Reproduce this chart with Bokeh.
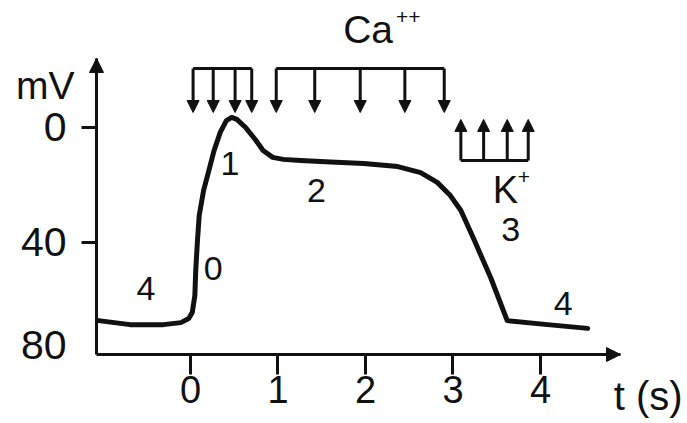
from bokeh.plotting import figure
from bokeh.models import Range1d, FixedTicker, Label, Arrow, NormalHead, ColumnDataSource
from bokeh.embed import file_html
from bokeh.resources import INLINE
from bokeh.core.properties import value

# ---- data ----
t_s = [-1.05, -0.69, -0.31, -0.11, -0.02, 0.02, 0.05, 0.06, 0.08, 0.10, 0.15, 0.21,
       0.27, 0.34, 0.41, 0.47, 0.53, 0.63, 0.74, 0.83, 0.94, 1.06, 1.26, 1.60,
       1.98, 2.37, 2.63, 2.82, 2.97, 3.09, 3.23, 3.43, 3.62, 4.08, 4.54]
mv = [67.2, 68.6, 68.6, 67.9, 66.5, 64.4, 58.5, 49.8, 39.3, 30.6, 21.9, 15.0,
      8.0, 1.7, -2.4, -3.5, -2.8, 0.0, 4.2, 8.0, 10.4, 11.1, 11.5, 12.0,
      12.5, 13.6, 15.7, 19.1, 23.7, 28.9, 38.3, 52.2, 67.2, 68.6, 69.9]

x_ticks = [0, 1, 2, 3, 4]
y_ticks = [0, 40]
y_last_tick = "80"

phase_labels = ["4", "0", "1", "2", "3", "4"]
phase_t = [-0.51, 0.26, 0.45, 1.44, 3.66, 4.26]
phase_mv = [56.0, 49.1, 12.5, 21.9, 35.5, 61.2]

ca_fast_t = [0.03, 0.26, 0.51, 0.70]
ca_slow_t = [0.98, 1.42, 1.94, 2.45, 2.90]
k_t = [3.09, 3.35, 3.62, 3.86]
ca_bar_mv, ca_tip_mv = -20.5, -5.2
k_bar_mv, k_tip_mv = 11.5, -2.8

FONT_NAME = "Liberation Sans"
FONT = value(FONT_NAME)
INK = "#111111"

# axis extents (data units) and full-canvas view
ax_x0, ax_x1 = -1.074, 4.914
ax_y_bottom, ax_y_top = 79.0, -24.0
view_x = (-2.171, 5.680)
view_y = (103.0, -44.18)

p = figure(width=687, height=423, output_backend="svg", toolbar_location=None,
           x_range=Range1d(*view_x), y_range=Range1d(*view_y), min_border=0)
p.outline_line_color = None
p.xgrid.visible = False
p.ygrid.visible = False
p.background_fill_color = "white"

# axes drawn at fixed data locations so all texts stay inside the frame
xa, ya = p.xaxis[0], p.yaxis[0]
xa.fixed_location = ax_y_bottom
ya.fixed_location = ax_x0
xa.bounds = (ax_x0, ax_x1)
ya.bounds = (ax_y_top, ax_y_bottom)
for ax in (xa, ya):
    ax.axis_line_width = 3
    ax.axis_line_color = INK
    ax.major_tick_line_width = 3
    ax.major_tick_line_color = INK
    ax.minor_tick_line_color = None
    ax.major_tick_in = 0
    ax.major_label_text_font = FONT_NAME
    ax.major_label_text_color = INK

xa.ticker = FixedTicker(ticks=x_ticks)
xa.major_tick_out = 20
xa.major_label_standoff = 1
xa.major_label_text_font_size = "38px"

ya.ticker = FixedTicker(ticks=y_ticks)
ya.major_tick_out = 15
ya.major_label_standoff = 15
ya.major_label_text_font_size = "41px"

# axis arrowheads
p.add_layout(Arrow(end=NormalHead(size=14, fill_color=INK, line_color=INK, line_width=1),
                   x_start=ax_x0, y_start=ax_y_top + 6, x_end=ax_x0, y_end=ax_y_top,
                   line_alpha=0))
p.add_layout(Arrow(end=NormalHead(size=14, fill_color=INK, line_color=INK, line_width=1),
                   x_start=ax_x1 - 0.3, y_start=ax_y_bottom, x_end=ax_x1, y_end=ax_y_bottom,
                   line_alpha=0))


def label(text, x, y, size, align="center", dx=0, dy=0):
    p.add_layout(Label(x=x, y=y, x_offset=dx, y_offset=dy, text=text, text_align=align,
                       text_baseline="middle", text_font=FONT_NAME, text_font_size=size,
                       text_color=INK))


# axis texts
label(y_last_tick, ax_x0, 80, "41px", align="right", dx=-30, dy=12)
label("mV", -1.66, -14.6, "39px")
label("t (s)", 5.23, 93.6, "40px")

# action potential curve
p.line(t_s, mv, line_width=5, line_color=INK, line_join="round", line_cap="round")

# phase labels
p.text(x=phase_t, y=phase_mv, text=phase_labels, text_font=FONT, text_font_size="34px",
       text_align="center", text_baseline="middle", text_color=INK)

# Ca++ brackets and arrows
for group in (ca_fast_t, ca_slow_t):
    p.segment(x0=[min(group)], y0=[ca_bar_mv], x1=[max(group)], y1=[ca_bar_mv],
              line_width=3, line_color=INK)
    src = ColumnDataSource(dict(x=group, y0=[ca_bar_mv] * len(group), y1=[ca_tip_mv] * len(group)))
    p.add_layout(Arrow(end=NormalHead(size=12, fill_color=INK, line_color=INK, line_width=1),
                       x_start="x", y_start="y0", x_end="x", y_end="y1", source=src,
                       line_width=3, line_color=INK))

# K+ bracket and arrows
p.segment(x0=[min(k_t)], y0=[k_bar_mv], x1=[max(k_t)], y1=[k_bar_mv], line_width=3, line_color=INK)
ksrc = ColumnDataSource(dict(x=k_t, y0=[k_bar_mv] * len(k_t), y1=[k_tip_mv] * len(k_t)))
p.add_layout(Arrow(end=NormalHead(size=12, fill_color=INK, line_color=INK, line_width=1),
                   x_start="x", y_start="y0", x_end="x", y_end="y1", source=ksrc,
                   line_width=3, line_color=INK))

# ion labels
label("Ca", 2.03, -34.1, "39px")
label("++", 2.49, -38.3, "21px")
label("K", 3.60, 21.6, "38px")
label("+", 3.81, 17.4, "21px")

open("out.html", "w").write(file_html(p, INLINE))
